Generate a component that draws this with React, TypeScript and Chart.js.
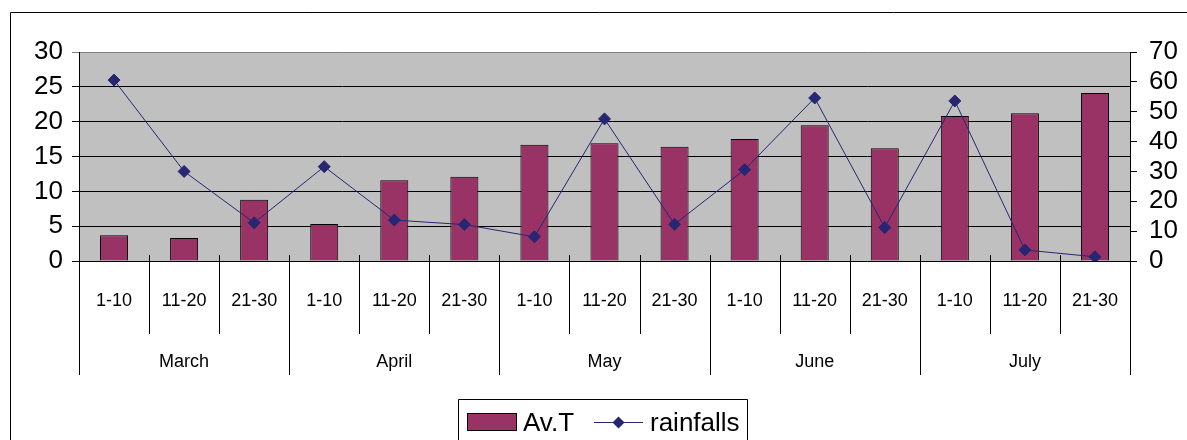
import React, { useEffect, useRef } from 'react';
import { Chart, registerables } from 'chart.js';

Chart.register(...registerables);

const periods = ['1-10', '11-20', '21-30', '1-10', '11-20', '21-30', '1-10', '11-20', '21-30', '1-10', '11-20', '21-30', '1-10', '11-20', '21-30'];
const months = ['March', 'April', 'May', 'June', 'July'];
const avgTemp = [3.7, 3.3, 8.8, 5.3, 11.6, 12.1, 16.7, 16.9, 16.4, 17.5, 19.5, 16.2, 20.8, 21.2, 24.1];
const rainfalls = [60.6, 30.0, 12.8, 31.6, 13.7, 12.2, 8.1, 47.6, 12.3, 30.6, 54.6, 11.2, 53.6, 3.7, 1.4];
const tempTicks = [0, 5, 10, 15, 20, 25, 30];
const rainTicks = [0, 10, 20, 30, 40, 50, 60, 70];

const FONT = '"Liberation Sans", Arial, sans-serif';
const BAR_COLOR = '#993366';
const LINE_COLOR = '#262673';

const decorPlugin = {
  id: 'decor',
  beforeDraw(chart: any) {
    const { ctx, chartArea } = chart;
    ctx.save();
    ctx.fillStyle = '#ffffff';
    ctx.fillRect(0, 0, chart.width, chart.height);
    ctx.fillStyle = '#c0c0c0';
    ctx.fillRect(chartArea.left, chartArea.top, chartArea.right - chartArea.left, chartArea.bottom - chartArea.top);
    ctx.strokeStyle = '#000';
    ctx.lineWidth = 1;
    ctx.beginPath();
    ctx.moveTo(10.5, chart.height + 1);
    ctx.lineTo(10.5, 12.5);
    ctx.lineTo(chart.width + 1, 12.5);
    ctx.stroke();
    ctx.restore();
  },
  afterDraw(chart: any) {
    const { ctx, chartArea } = chart;
    const xs = chart.scales.x;
    const n = periods.length;
    const centers = periods.map((_, i) => xs.getPixelForValue(i));
    const bounds: number[] = [];
    for (let k = 0; k <= n; k++) {
      if (k === 0) bounds.push(chartArea.left);
      else if (k === n) bounds.push(chartArea.right);
      else bounds.push((centers[k - 1] + centers[k]) / 2);
    }
    ctx.save();
    ctx.strokeStyle = '#000';
    ctx.lineWidth = 1;
    bounds.forEach((b, k) => {
      const x = Math.round(b) + 0.5;
      ctx.beginPath();
      ctx.moveTo(x, chartArea.bottom - 6);
      ctx.lineTo(x, k % 3 === 0 ? 375 : 334);
      ctx.stroke();
    });
    ctx.fillStyle = '#000';
    ctx.textAlign = 'center';
    ctx.textBaseline = 'alphabetic';
    ctx.font = `18px ${FONT}`;
    periods.forEach((p, i) => ctx.fillText(p, centers[i], 306));
    months.forEach((m, j) => {
      const cx = (bounds[j * 3] + bounds[j * 3 + 3]) / 2;
      ctx.fillText(m, cx, 367);
    });

    // legend
    const ds = chart.data.datasets;
    ctx.strokeStyle = '#000';
    ctx.beginPath();
    ctx.moveTo(458.5, chart.height + 1);
    ctx.lineTo(458.5, 399.5);
    ctx.lineTo(747.5, 399.5);
    ctx.lineTo(747.5, chart.height + 1);
    ctx.stroke();
    ctx.fillStyle = ds[0].backgroundColor;
    ctx.fillRect(467.5, 413.5, 49, 17);
    ctx.strokeRect(467.5, 413.5, 49, 17);
    ctx.font = `26px ${FONT}`;
    ctx.textAlign = 'left';
    ctx.fillStyle = '#000';
    ctx.fillText(ds[0].label, 523, 431);
    ctx.strokeStyle = ds[1].borderColor;
    ctx.beginPath();
    ctx.moveTo(594, 422.5);
    ctx.lineTo(643, 422.5);
    ctx.stroke();
    ctx.fillStyle = ds[1].pointBackgroundColor;
    ctx.beginPath();
    ctx.moveTo(618.5 - 6, 422.5);
    ctx.lineTo(618.5, 422.5 - 6);
    ctx.lineTo(618.5 + 6, 422.5);
    ctx.lineTo(618.5, 422.5 + 6);
    ctx.closePath();
    ctx.fill();
    ctx.fillStyle = '#000';
    ctx.fillText(ds[1].label, 650, 431);
    ctx.restore();
  },
};

export default function App() {
  const ref = useRef<HTMLCanvasElement | null>(null);
  useEffect(() => {
    if (!ref.current) return;
    const chart = new Chart(ref.current, {
      data: {
        labels: periods,
        datasets: [
          {
            type: 'bar',
            label: 'Av.T',
            data: avgTemp,
            yAxisID: 'y',
            backgroundColor: BAR_COLOR,
            borderColor: '#000',
            borderWidth: 1,
            barPercentage: 0.4,
            categoryPercentage: 1,
            order: 1,
          },
          {
            type: 'line',
            label: 'rainfalls',
            data: rainfalls,
            yAxisID: 'y1',
            borderColor: LINE_COLOR,
            borderWidth: 1,
            tension: 0,
            pointStyle: 'rectRot',
            pointRadius: 6,
            pointBackgroundColor: LINE_COLOR,
            pointBorderColor: LINE_COLOR,
            pointBorderWidth: 1,
            order: 0,
          },
        ] as any,
      },
      options: {
        responsive: false,
        animation: false,
        devicePixelRatio: 1,
        layout: { padding: { top: 52, bottom: 179, left: 0, right: 0 } },
        plugins: { legend: { display: false }, tooltip: { enabled: false } },
        scales: {
          x: { type: 'category', display: false, offset: true },
          y: {
            position: 'left',
            min: tempTicks[0],
            max: tempTicks[tempTicks.length - 1],
            afterBuildTicks: (s: any) => { s.ticks = tempTicks.map((v) => ({ value: v })); },
            afterFit: (s: any) => { s.width = 79; },
            ticks: { autoSkip: false, color: '#000', font: { size: 26, family: FONT, lineHeight: 1 }, padding: 9 },
            grid: {
              color: (c: any) => (c.tick && c.tick.value === tempTicks[tempTicks.length - 1] ? '#808080' : '#000'),
              lineWidth: 1,
              tickLength: 7,
            },
            border: { display: true, color: '#000', width: 1 },
          },
          y1: {
            position: 'right',
            min: rainTicks[0],
            max: rainTicks[rainTicks.length - 1],
            afterBuildTicks: (s: any) => { s.ticks = rainTicks.map((v) => ({ value: v })); },
            afterFit: (s: any) => { s.width = 57; },
            ticks: { autoSkip: false, color: '#000', font: { size: 26, family: FONT, lineHeight: 1 }, padding: 12 },
            grid: { drawOnChartArea: false, color: '#000', tickLength: 7 },
            border: { display: true, color: '#000', width: 1 },
          },
        },
      } as any,
      plugins: [decorPlugin],
    });
    return () => chart.destroy();
  }, []);
  return (
    <div style={{ position: 'absolute', left: 0, top: 0, width: 1187, height: 440 }}>
      <canvas ref={ref} width={1187} height={440} />
    </div>
  );
}
